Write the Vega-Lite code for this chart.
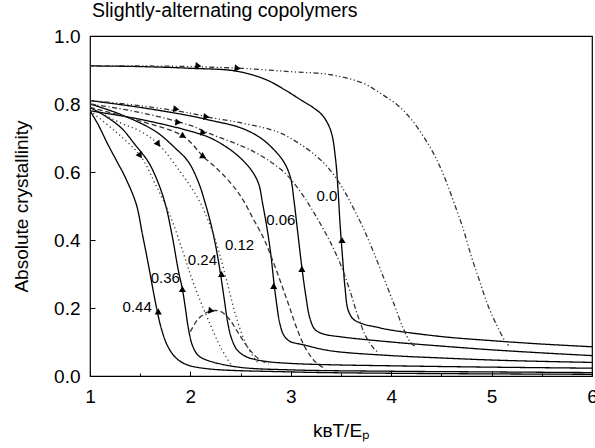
{
  "$schema": "https://vega.github.io/schema/vega-lite/v6.json",
  "width": 502,
  "height": 340,
  "padding": {"left": 90, "top": 36, "right": 3, "bottom": 72},
  "autosize": {"type": "none"},
  "background": "white",
  "config": {
    "view": {"stroke": "black", "strokeWidth": 1.2},
    "font": "Liberation Sans",
    "axis": {"labelFont": "Liberation Sans", "titleFont": "Liberation Sans", "labelFontSize": 19, "titleFontSize": 19, "labelColor": "black", "titleColor": "black", "tickColor": "black", "domain": false, "grid": false, "titleFontWeight": "normal"}
  },
  "title": {"text": "Slightly-alternating copolymers", "anchor": "start", "frame": "group", "fontSize": 19.5, "fontWeight": "normal", "font": "Liberation Sans", "color": "black", "offset": 6, "dx": 2},
  "datasets": {
    "curves": [
      {"c": "C0.0", "x": 1, "y": 0.912}, {"c": "C0.0", "x": 1.5, "y": 0.91}, {"c": "C0.0", "x": 2, "y": 0.905}, {"c": "C0.0", "x": 2.45, "y": 0.897}, {"c": "C0.0", "x": 2.75, "y": 0.872}, {"c": "C0.0", "x": 2.95, "y": 0.84}, {"c": "C0.0", "x": 3.1, "y": 0.812}, {"c": "C0.0", "x": 3.22, "y": 0.79}, {"c": "C0.0", "x": 3.32, "y": 0.765}, {"c": "C0.0", "x": 3.4, "y": 0.72}, {"c": "C0.0", "x": 3.445, "y": 0.64}, {"c": "C0.0", "x": 3.47, "y": 0.55}, {"c": "C0.0", "x": 3.49, "y": 0.45}, {"c": "C0.0", "x": 3.515, "y": 0.35}, {"c": "C0.0", "x": 3.54, "y": 0.26}, {"c": "C0.0", "x": 3.57, "y": 0.195}, {"c": "C0.0", "x": 3.62, "y": 0.168}, {"c": "C0.0", "x": 3.7, "y": 0.155}, {"c": "C0.0", "x": 3.85, "y": 0.144}, {"c": "C0.0", "x": 4, "y": 0.135}, {"c": "C0.0", "x": 4.5, "y": 0.116}, {"c": "C0.0", "x": 5, "y": 0.104}, {"c": "C0.0", "x": 5.5, "y": 0.094}, {"c": "C0.0", "x": 6, "y": 0.086},

      {"c": "C0.06", "x": 1, "y": 0.81}, {"c": "C0.06", "x": 1.5, "y": 0.79}, {"c": "C0.06", "x": 2, "y": 0.765}, {"c": "C0.06", "x": 2.2, "y": 0.752}, {"c": "C0.06", "x": 2.5, "y": 0.73}, {"c": "C0.06", "x": 2.7, "y": 0.7}, {"c": "C0.06", "x": 2.85, "y": 0.66}, {"c": "C0.06", "x": 2.94, "y": 0.625}, {"c": "C0.06", "x": 3.0, "y": 0.58}, {"c": "C0.06", "x": 3.03, "y": 0.52}, {"c": "C0.06", "x": 3.07, "y": 0.42}, {"c": "C0.06", "x": 3.11, "y": 0.32}, {"c": "C0.06", "x": 3.15, "y": 0.235}, {"c": "C0.06", "x": 3.19, "y": 0.17}, {"c": "C0.06", "x": 3.24, "y": 0.137}, {"c": "C0.06", "x": 3.32, "y": 0.124}, {"c": "C0.06", "x": 3.5, "y": 0.115}, {"c": "C0.06", "x": 4, "y": 0.1}, {"c": "C0.06", "x": 4.5, "y": 0.088}, {"c": "C0.06", "x": 5, "y": 0.077}, {"c": "C0.06", "x": 5.5, "y": 0.068}, {"c": "C0.06", "x": 6, "y": 0.06},

      {"c": "C0.12", "x": 1, "y": 0.78}, {"c": "C0.12", "x": 1.5, "y": 0.755}, {"c": "C0.12", "x": 2, "y": 0.72}, {"c": "C0.12", "x": 2.2, "y": 0.7}, {"c": "C0.12", "x": 2.4, "y": 0.665}, {"c": "C0.12", "x": 2.53, "y": 0.632}, {"c": "C0.12", "x": 2.62, "y": 0.6}, {"c": "C0.12", "x": 2.68, "y": 0.565}, {"c": "C0.12", "x": 2.72, "y": 0.506}, {"c": "C0.12", "x": 2.76, "y": 0.44}, {"c": "C0.12", "x": 2.8, "y": 0.36}, {"c": "C0.12", "x": 2.83, "y": 0.28}, {"c": "C0.12", "x": 2.86, "y": 0.21}, {"c": "C0.12", "x": 2.89, "y": 0.155}, {"c": "C0.12", "x": 2.93, "y": 0.12}, {"c": "C0.12", "x": 2.99, "y": 0.102}, {"c": "C0.12", "x": 3.12, "y": 0.092}, {"c": "C0.12", "x": 3.4, "y": 0.074}, {"c": "C0.12", "x": 4, "y": 0.06}, {"c": "C0.12", "x": 4.5, "y": 0.053}, {"c": "C0.12", "x": 5, "y": 0.047}, {"c": "C0.12", "x": 5.5, "y": 0.043}, {"c": "C0.12", "x": 6, "y": 0.04},

      {"c": "C0.24", "x": 1, "y": 0.8}, {"c": "C0.24", "x": 1.3, "y": 0.77}, {"c": "C0.24", "x": 1.65, "y": 0.72}, {"c": "C0.24", "x": 1.85, "y": 0.67}, {"c": "C0.24", "x": 1.98, "y": 0.63}, {"c": "C0.24", "x": 2.08, "y": 0.57}, {"c": "C0.24", "x": 2.15, "y": 0.506}, {"c": "C0.24", "x": 2.21, "y": 0.44}, {"c": "C0.24", "x": 2.26, "y": 0.37}, {"c": "C0.24", "x": 2.3, "y": 0.3}, {"c": "C0.24", "x": 2.34, "y": 0.22}, {"c": "C0.24", "x": 2.37, "y": 0.16}, {"c": "C0.24", "x": 2.41, "y": 0.11}, {"c": "C0.24", "x": 2.47, "y": 0.075}, {"c": "C0.24", "x": 2.57, "y": 0.055}, {"c": "C0.24", "x": 2.75, "y": 0.043}, {"c": "C0.24", "x": 3.0, "y": 0.037}, {"c": "C0.24", "x": 3.4, "y": 0.033}, {"c": "C0.24", "x": 4, "y": 0.03}, {"c": "C0.24", "x": 5, "y": 0.026}, {"c": "C0.24", "x": 6, "y": 0.023},

      {"c": "C0.36", "x": 1, "y": 0.79}, {"c": "C0.36", "x": 1.15, "y": 0.765}, {"c": "C0.36", "x": 1.31, "y": 0.73}, {"c": "C0.36", "x": 1.45, "y": 0.68}, {"c": "C0.36", "x": 1.58, "y": 0.63}, {"c": "C0.36", "x": 1.67, "y": 0.575}, {"c": "C0.36", "x": 1.75, "y": 0.506}, {"c": "C0.36", "x": 1.82, "y": 0.41}, {"c": "C0.36", "x": 1.88, "y": 0.31}, {"c": "C0.36", "x": 1.92, "y": 0.256}, {"c": "C0.36", "x": 1.95, "y": 0.2}, {"c": "C0.36", "x": 1.98, "y": 0.14}, {"c": "C0.36", "x": 2.02, "y": 0.09}, {"c": "C0.36", "x": 2.08, "y": 0.06}, {"c": "C0.36", "x": 2.18, "y": 0.045}, {"c": "C0.36", "x": 2.48, "y": 0.026}, {"c": "C0.36", "x": 3, "y": 0.018}, {"c": "C0.36", "x": 4, "y": 0.014}, {"c": "C0.36", "x": 5, "y": 0.012}, {"c": "C0.36", "x": 6, "y": 0.01},

      {"c": "C0.44", "x": 1, "y": 0.78}, {"c": "C0.44", "x": 1.08, "y": 0.74}, {"c": "C0.44", "x": 1.18, "y": 0.68}, {"c": "C0.44", "x": 1.27, "y": 0.63}, {"c": "C0.44", "x": 1.35, "y": 0.585}, {"c": "C0.44", "x": 1.46, "y": 0.506}, {"c": "C0.44", "x": 1.52, "y": 0.42}, {"c": "C0.44", "x": 1.58, "y": 0.33}, {"c": "C0.44", "x": 1.63, "y": 0.25}, {"c": "C0.44", "x": 1.67, "y": 0.19}, {"c": "C0.44", "x": 1.71, "y": 0.14}, {"c": "C0.44", "x": 1.77, "y": 0.09}, {"c": "C0.44", "x": 1.85, "y": 0.055}, {"c": "C0.44", "x": 1.95, "y": 0.035}, {"c": "C0.44", "x": 2.15, "y": 0.022}, {"c": "C0.44", "x": 3, "y": 0.012}, {"c": "C0.44", "x": 4, "y": 0.008}, {"c": "C0.44", "x": 6, "y": 0.005},

      {"c": "H0.0", "x": 1, "y": 0.912}, {"c": "H0.0", "x": 1.5, "y": 0.912}, {"c": "H0.0", "x": 2, "y": 0.91}, {"c": "H0.0", "x": 2.5, "y": 0.905}, {"c": "H0.0", "x": 3, "y": 0.895}, {"c": "H0.0", "x": 3.4, "y": 0.886}, {"c": "H0.0", "x": 3.73, "y": 0.86}, {"c": "H0.0", "x": 3.9, "y": 0.83}, {"c": "H0.0", "x": 4.07, "y": 0.795}, {"c": "H0.0", "x": 4.2, "y": 0.755}, {"c": "H0.0", "x": 4.32, "y": 0.705}, {"c": "H0.0", "x": 4.43, "y": 0.65}, {"c": "H0.0", "x": 4.53, "y": 0.585}, {"c": "H0.0", "x": 4.63, "y": 0.506}, {"c": "H0.0", "x": 4.72, "y": 0.43}, {"c": "H0.0", "x": 4.8, "y": 0.35}, {"c": "H0.0", "x": 4.88, "y": 0.28}, {"c": "H0.0", "x": 4.96, "y": 0.21}, {"c": "H0.0", "x": 5.05, "y": 0.15}, {"c": "H0.0", "x": 5.13, "y": 0.105}, {"c": "H0.0", "x": 5.17, "y": 0.09},

      {"c": "H0.06", "x": 1, "y": 0.81}, {"c": "H0.06", "x": 1.5, "y": 0.795}, {"c": "H0.06", "x": 2, "y": 0.773}, {"c": "H0.06", "x": 2.2, "y": 0.76}, {"c": "H0.06", "x": 2.5, "y": 0.745}, {"c": "H0.06", "x": 2.87, "y": 0.718}, {"c": "H0.06", "x": 3.05, "y": 0.69}, {"c": "H0.06", "x": 3.2, "y": 0.66}, {"c": "H0.06", "x": 3.35, "y": 0.62}, {"c": "H0.06", "x": 3.47, "y": 0.574}, {"c": "H0.06", "x": 3.55, "y": 0.535}, {"c": "H0.06", "x": 3.63, "y": 0.49}, {"c": "H0.06", "x": 3.73, "y": 0.43}, {"c": "H0.06", "x": 3.83, "y": 0.36}, {"c": "H0.06", "x": 3.93, "y": 0.285}, {"c": "H0.06", "x": 4.03, "y": 0.21}, {"c": "H0.06", "x": 4.12, "y": 0.14}, {"c": "H0.06", "x": 4.19, "y": 0.1}, {"c": "H0.06", "x": 4.25, "y": 0.085},

      {"c": "H0.12", "x": 1, "y": 0.8}, {"c": "H0.12", "x": 1.5, "y": 0.775}, {"c": "H0.12", "x": 2, "y": 0.737}, {"c": "H0.12", "x": 2.2, "y": 0.712}, {"c": "H0.12", "x": 2.63, "y": 0.66}, {"c": "H0.12", "x": 2.93, "y": 0.6}, {"c": "H0.12", "x": 3.1, "y": 0.54}, {"c": "H0.12", "x": 3.2, "y": 0.495}, {"c": "H0.12", "x": 3.3, "y": 0.445}, {"c": "H0.12", "x": 3.4, "y": 0.39}, {"c": "H0.12", "x": 3.5, "y": 0.325}, {"c": "H0.12", "x": 3.59, "y": 0.25}, {"c": "H0.12", "x": 3.67, "y": 0.175}, {"c": "H0.12", "x": 3.75, "y": 0.115}, {"c": "H0.12", "x": 3.83, "y": 0.08}, {"c": "H0.12", "x": 3.88, "y": 0.068},

      {"c": "H0.24", "x": 1, "y": 0.79}, {"c": "H0.24", "x": 1.5, "y": 0.75}, {"c": "H0.24", "x": 1.93, "y": 0.705}, {"c": "H0.24", "x": 2.13, "y": 0.645}, {"c": "H0.24", "x": 2.3, "y": 0.6}, {"c": "H0.24", "x": 2.45, "y": 0.55}, {"c": "H0.24", "x": 2.53, "y": 0.515}, {"c": "H0.24", "x": 2.63, "y": 0.46}, {"c": "H0.24", "x": 2.73, "y": 0.405}, {"c": "H0.24", "x": 2.8, "y": 0.355}, {"c": "H0.24", "x": 2.87, "y": 0.3}, {"c": "H0.24", "x": 2.93, "y": 0.25}, {"c": "H0.24", "x": 2.99, "y": 0.2}, {"c": "H0.24", "x": 3.06, "y": 0.14}, {"c": "H0.24", "x": 3.15, "y": 0.08}, {"c": "H0.24", "x": 3.25, "y": 0.04}, {"c": "H0.24", "x": 3.35, "y": 0.02},

      {"c": "H0.36", "x": 1, "y": 0.79}, {"c": "H0.36", "x": 1.3, "y": 0.745}, {"c": "H0.36", "x": 1.5, "y": 0.72}, {"c": "H0.36", "x": 1.68, "y": 0.682}, {"c": "H0.36", "x": 1.9, "y": 0.6}, {"c": "H0.36", "x": 2.08, "y": 0.52}, {"c": "H0.36", "x": 2.2, "y": 0.44}, {"c": "H0.36", "x": 2.28, "y": 0.37}, {"c": "H0.36", "x": 2.37, "y": 0.27}, {"c": "H0.36", "x": 2.46, "y": 0.17}, {"c": "H0.36", "x": 2.56, "y": 0.09}, {"c": "H0.36", "x": 2.68, "y": 0.035},

      {"c": "H0.44", "x": 1, "y": 0.78}, {"c": "H0.44", "x": 1.25, "y": 0.72}, {"c": "H0.44", "x": 1.5, "y": 0.648}, {"c": "H0.44", "x": 1.65, "y": 0.565}, {"c": "H0.44", "x": 1.8, "y": 0.47}, {"c": "H0.44", "x": 1.92, "y": 0.37}, {"c": "H0.44", "x": 2.01, "y": 0.29}, {"c": "H0.44", "x": 2.1, "y": 0.22}, {"c": "H0.44", "x": 2.2, "y": 0.15}, {"c": "H0.44", "x": 2.3, "y": 0.085}, {"c": "H0.44", "x": 2.41, "y": 0.03},

      {"c": "R0.44", "x": 2.0, "y": 0.13}, {"c": "R0.44", "x": 2.07, "y": 0.165}, {"c": "R0.44", "x": 2.15, "y": 0.185}, {"c": "R0.44", "x": 2.22, "y": 0.192}, {"c": "R0.44", "x": 2.3, "y": 0.19}, {"c": "R0.44", "x": 2.38, "y": 0.17}, {"c": "R0.44", "x": 2.47, "y": 0.13}, {"c": "R0.44", "x": 2.57, "y": 0.085}, {"c": "R0.44", "x": 2.68, "y": 0.05}, {"c": "R0.44", "x": 2.78, "y": 0.035}
    ],
    "arrows": [
      {"dir": "up", "x": 3.51, "y": 0.4}, {"dir": "up", "x": 3.11, "y": 0.315}, {"dir": "up", "x": 2.83, "y": 0.265}, {"dir": "up", "x": 2.31, "y": 0.3}, {"dir": "up", "x": 1.92, "y": 0.256}, {"dir": "up", "x": 1.68, "y": 0.19},
      {"dir": "right", "x": 2.08, "y": 0.912}, {"dir": "right", "x": 2.47, "y": 0.905}, {"dir": "right", "x": 1.86, "y": 0.785}, {"dir": "right", "x": 2.16, "y": 0.762}, {"dir": "right", "x": 1.88, "y": 0.746}, {"dir": "right", "x": 2.13, "y": 0.716}, {"dir": "right", "x": 2.21, "y": 0.192},
      {"dir": "down", "x": 1.93, "y": 0.705}, {"dir": "down", "x": 2.13, "y": 0.645},
      {"dir": "steep", "x": 1.68, "y": 0.682}, {"dir": "steep", "x": 1.5, "y": 0.648}
    ],
    "labels": [
      {"t": "0.0", "x": 3.36, "y": 0.53}, {"t": "0.06", "x": 2.9, "y": 0.459}, {"t": "0.12", "x": 2.49, "y": 0.385}, {"t": "0.24", "x": 2.12, "y": 0.341}, {"t": "0.36", "x": 1.75, "y": 0.288}, {"t": "0.44", "x": 1.47, "y": 0.203}
    ]
  },
  "layer": [
    {
      "data": {"name": "curves"},
      "mark": {"type": "line", "strokeWidth": 1.3, "clip": true, "interpolate": "catmull-rom"},
      "encoding": {
        "x": {"field": "x", "type": "quantitative", "scale": {"domain": [1, 6], "nice": false}, "axis": {"title": "k\u0299T/E\u209a", "values": [1, 1.5, 2, 2.5, 3, 3.5, 4, 4.5, 5, 5.5, 6], "labelExpr": "datum.value % 1 === 0 ? format(datum.value, 'd') : ''", "tickSize": {"condition": {"test": "datum.value % 1 === 0", "value": -5}, "value": -3}, "labelPadding": 16, "titlePadding": 15, "labelFlush": false}},
        "y": {"field": "y", "type": "quantitative", "scale": {"domain": [0, 1], "nice": false}, "axis": {"title": "Absolute crystallinity", "values": [0, 0.1, 0.2, 0.3, 0.4, 0.5, 0.6, 0.7, 0.8, 0.9, 1.0], "labelExpr": "round(datum.value * 10) % 2 === 0 ? format(datum.value, '.1f') : ''", "tickSize": {"condition": {"test": "round(datum.value * 10) % 2 === 0", "value": -5}, "value": -3}, "labelPadding": 15, "titlePadding": 22, "labelFlush": false}},
        "detail": {"field": "c"},
        "color": {"condition": {"test": "indexof(datum.c, 'C') !== 0", "value": "#333333"}, "value": "black"},
        "strokeDash": {"field": "c", "type": "nominal", "legend": null, "scale": {"domain": ["C0.0", "C0.06", "C0.12", "C0.24", "C0.36", "C0.44", "H0.0", "H0.06", "H0.12", "H0.24", "H0.36", "H0.44", "R0.44"], "range": [[1, 0], [1, 0], [1, 0], [1, 0], [1, 0], [1, 0], [5, 2.5, 1.2, 2.5, 1.2, 2.5], [5, 2.5, 1.2, 2.5, 1.2, 2.5], [5, 2.5, 1.2, 2.5], [5, 3], [1.2, 3], [1.2, 3], [5, 3]]}},
        "strokeWidth": {"condition": {"test": "indexof(datum.c, 'C') !== 0", "value": 1.0}, "value": 1.3}
      }
    },
    {
      "data": {"name": "arrows"},
      "transform": [{"filter": "datum.dir === 'up'"}],
      "mark": {"type": "point", "shape": "triangle-up", "filled": true, "color": "black", "size": 50, "opacity": 1},
      "encoding": {"x": {"field": "x", "type": "quantitative"}, "y": {"field": "y", "type": "quantitative"}}
    },
    {
      "data": {"name": "arrows"},
      "transform": [{"filter": "datum.dir === 'right'"}],
      "mark": {"type": "point", "shape": "triangle-right", "filled": true, "color": "black", "size": 50, "opacity": 1, "angle": 8},
      "encoding": {"x": {"field": "x", "type": "quantitative"}, "y": {"field": "y", "type": "quantitative"}}
    },
    {
      "data": {"name": "arrows"},
      "transform": [{"filter": "datum.dir === 'down'"}],
      "mark": {"type": "point", "shape": "triangle-right", "filled": true, "color": "black", "size": 50, "opacity": 1, "angle": 30},
      "encoding": {"x": {"field": "x", "type": "quantitative"}, "y": {"field": "y", "type": "quantitative"}}
    },
    {
      "data": {"name": "arrows"},
      "transform": [{"filter": "datum.dir === 'steep'"}],
      "mark": {"type": "point", "shape": "triangle-right", "filled": true, "color": "black", "size": 50, "opacity": 1, "angle": 55},
      "encoding": {"x": {"field": "x", "type": "quantitative"}, "y": {"field": "y", "type": "quantitative"}}
    },
    {
      "data": {"name": "labels"},
      "mark": {"type": "text", "fontSize": 15, "font": "Liberation Sans", "color": "black", "align": "center", "baseline": "middle"},
      "encoding": {"x": {"field": "x", "type": "quantitative"}, "y": {"field": "y", "type": "quantitative"}, "text": {"field": "t"}}
    }
  ]
}
